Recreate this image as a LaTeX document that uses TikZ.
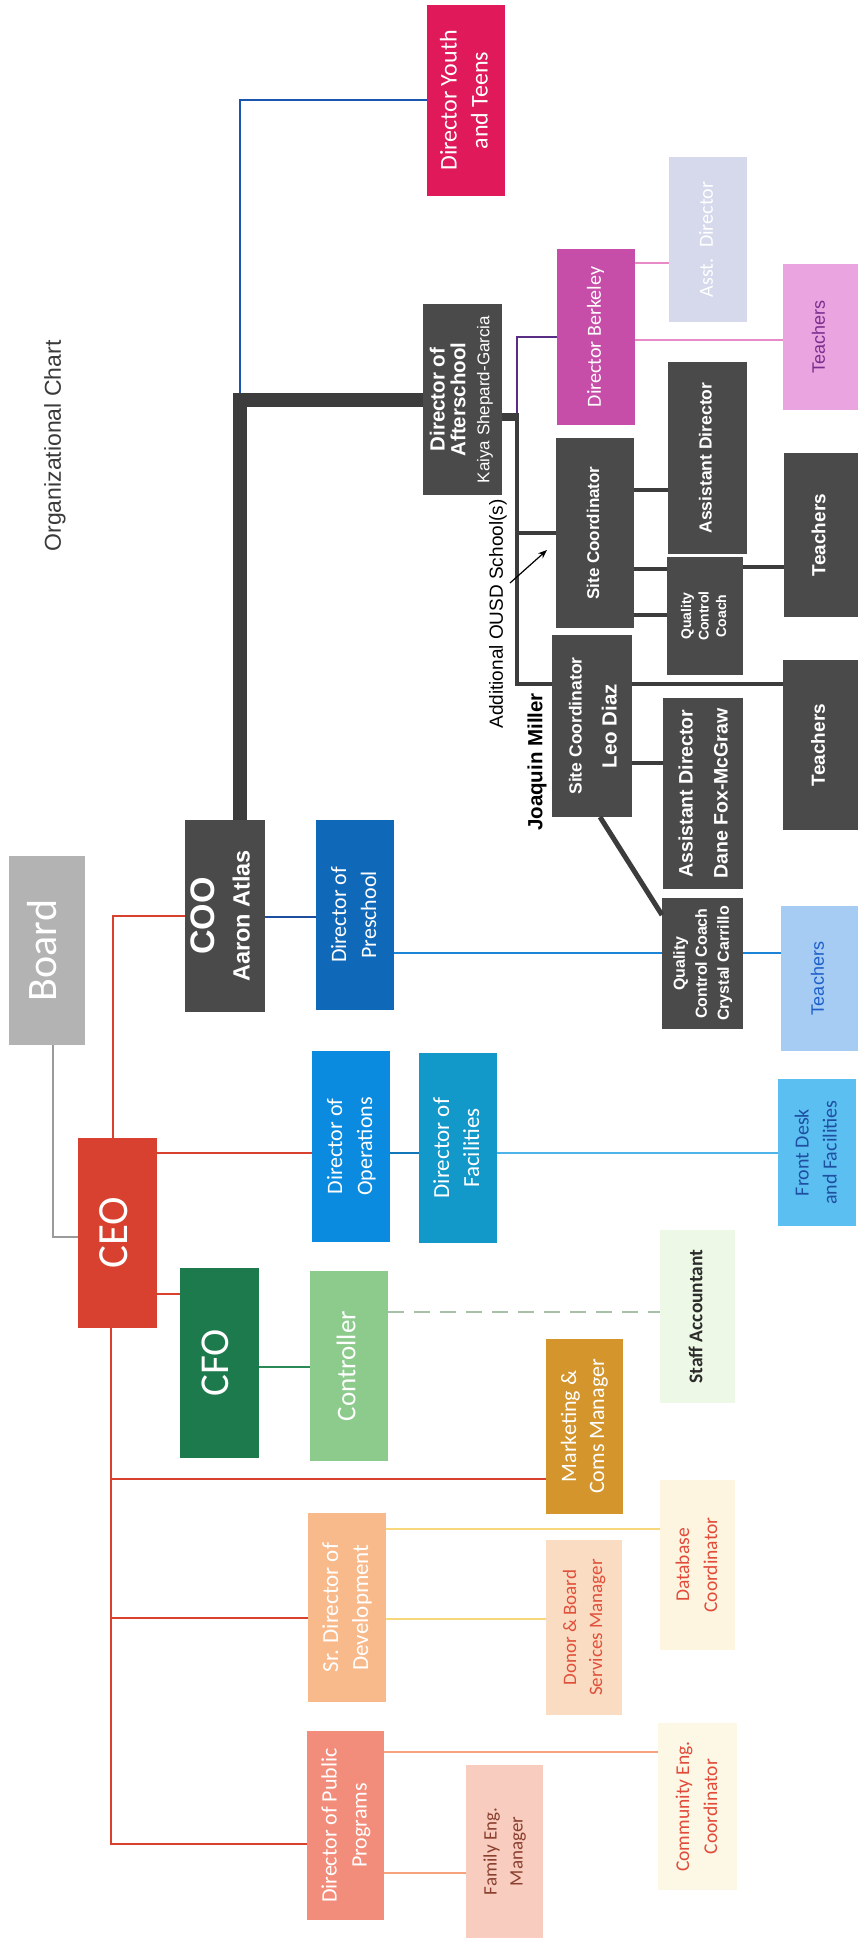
\documentclass[tikz,border=0pt]{standalone}
\usepackage{fontspec}
\usepackage{graphicx}
\setmainfont{Carlito}
\newfontfamily\fcal{Carlito}
\newfontfamily\farial{Liberation Sans}
\usetikzlibrary{arrows.meta}
\newcommand\fsz[2]{\fontsize{#1}{#2}\selectfont}
\newcommand\rtx[1]{\rotatebox{90}{\begin{tabular}{@{}c@{}}#1\end{tabular}}}
\newcommand\obox[7]{\node[box,#6,minimum width={(#4-#2)*1pt},minimum height={(#5-#3)*1pt}] (#1) at (#2,#3) {\rtx{#7}};}
\definecolor{youthc}{HTML}{E0195B}
\definecolor{bersc}{HTML}{C64EA8}
\definecolor{asstc}{HTML}{D5D9EB}
\definecolor{tpinkc}{HTML}{EAA5E0}
\definecolor{tpinkt}{HTML}{7B2D8E}
\definecolor{darkc}{HTML}{4A4A4A}
\definecolor{boardc}{HTML}{B3B3B3}
\definecolor{prec}{HTML}{1068B8}
\definecolor{opsc}{HTML}{0A8BE0}
\definecolor{facc}{HTML}{1398CA}
\definecolor{frontc}{HTML}{5CBFF1}
\definecolor{frontt}{HTML}{1E4FA0}
\definecolor{ceoc}{HTML}{D8412F}
\definecolor{cfoc}{HTML}{1C7A4C}
\definecolor{ctrlc}{HTML}{8DCB8C}
\definecolor{staffc}{HTML}{EEF8E6}
\definecolor{stafft}{HTML}{2B2B2B}
\definecolor{mktc}{HTML}{D4962C}
\definecolor{devc}{HTML}{F9BA8B}
\definecolor{pubc}{HTML}{F38D7B}
\definecolor{donorc}{HTML}{FADCC3}
\definecolor{donort}{HTML}{E0503A}
\definecolor{dbc}{HTML}{FDF5DF}
\definecolor{dbt}{HTML}{E24A3A}
\definecolor{famc}{HTML}{F8CDBF}
\definecolor{famt}{HTML}{8A3F2F}
\definecolor{comc}{HTML}{FDF7E6}
\definecolor{tbluec}{HTML}{A7CCF3}
\definecolor{tbluet}{HTML}{1D5FC8}
\definecolor{titlec}{HTML}{3A3A3A}
\definecolor{redl}{HTML}{D9412F}
\definecolor{grayl}{HTML}{9A9A9A}
\definecolor{youthl}{HTML}{1A55B0}
\definecolor{cooprel}{HTML}{1E4F9E}
\definecolor{prel}{HTML}{1B84D8}
\definecolor{opsl}{HTML}{1277B8}
\definecolor{facl}{HTML}{4DB3E8}
\definecolor{greenl}{HTML}{2A8A55}
\definecolor{dashc}{HTML}{A8BFA8}
\definecolor{yell}{HTML}{F6D77A}
\definecolor{orl}{HTML}{F5A27D}
\definecolor{purl}{HTML}{5A2D85}
\definecolor{pinkl}{HTML}{E88AC8}
\definecolor{darkl}{HTML}{3C3C3C}
\tikzset{
  box/.style={inner sep=0pt, outer sep=0pt, anchor=north west, text=white},
  lbl/.style={inner sep=0pt, rotate=90},
  rl/.style={draw=redl, line width=2pt},
  gl/.style={draw=grayl, line width=1.6pt},
  thinl/.style={line width=1.3pt},
  dk/.style={draw=darkl, line width=4.5pt},
}
\begin{document}
\begin{tikzpicture}[x=1pt,y=-1pt]
\useasboundingbox[fill=white] (0,0) rectangle (858,1940);
% title and labels
\node[lbl, font=\farial\fsz{23}{28}, text=titlec] (title) at (55,446) {Organizational Chart};
\node[lbl, font=\farial\fsz{19}{22}, text=black] (addl) at (498,614) {Additional OUSD School(s)};
\node[lbl, font=\farial\bfseries\fsz{20.5}{24}, text=black] (jm) at (537,762) {Joaquin Miller};
% boxes
\obox{youth}{427}{5}{505}{196}{fill=youthc, font=\fcal\fsz{24}{31}}{Director Youth\\and Teens}
\obox{asst}{669}{157}{747}{322}{fill=asstc, font=\fcal\fsz{20}{24}}{Asst.~ Director}
\obox{bers}{557}{249}{635}{425}{fill=bersc, font=\fcal\fsz{20}{24}}{Director Berkeley}
\obox{tpink}{783}{264}{858}{410}{fill=tpinkc, text=tpinkt, font=\farial\fsz{18}{22}}{Teachers}
\obox{after}{423}{304}{502}{495}{fill=darkc, font=\farial\bfseries\fsz{20.5}{20}}{Director of\\Afterschool\\[4pt]\mdseries\fsz{17}{20}Kaiya Shepard-Garcia}
\obox{sca}{556}{438}{634}{628}{fill=darkc, font=\farial\bfseries\fsz{17}{20}}{Site Coordinator}
\obox{ada}{668}{362}{747}{554}{fill=darkc, font=\farial\bfseries\fsz{17.5}{21}}{Assistant Director}
\obox{qca}{667}{557}{743}{675}{fill=darkc, font=\farial\bfseries\fsz{14}{17.5}}{Quality\\Control\\Coach}
\obox{ta}{784}{453}{858}{617}{fill=darkc, font=\farial\bfseries\fsz{19}{22}}{Teachers}
\obox{scb}{552}{635}{632}{817}{fill=darkc, font=\farial\bfseries\fsz{17.5}{35}}{Site Coordinator\\\fsz{20.5}{24}Leo Diaz}
\obox{adb}{663}{698}{743}{889}{fill=darkc, font=\farial\bfseries\fsz{19.5}{35}}{Assistant Director\\Dane Fox-McGraw}
\obox{tb}{783}{660}{858}{830}{fill=darkc, font=\farial\bfseries\fsz{19}{22}}{Teachers}
\obox{qcb}{662}{898}{743}{1029}{fill=darkc, font=\farial\bfseries\fsz{16}{22}}{Quality\\Control Coach\\Crystal Carrillo}
\obox{tblue}{781}{906}{858}{1051}{fill=tbluec, text=tbluet, font=\farial\fsz{18}{22}}{Teachers}
\obox{board}{9}{856}{85}{1045}{fill=boardc, font=\fcal\fsz{42}{48}}{Board}
\obox{coo}{185}{820}{265}{1012}{fill=darkc, font=\farial\bfseries\fsz{23.5}{35}}{\fsz{34}{36}COO\\Aaron Atlas}
\obox{pre}{316}{820}{394}{1010}{fill=prec, font=\fcal\fsz{22}{30}}{Director of\\Preschool}
\obox{ops}{312}{1051}{390}{1242}{fill=opsc, font=\fcal\fsz{22}{30}}{Director of\\Operations}
\obox{fac}{419}{1053}{497}{1243}{fill=facc, font=\fcal\fsz{23}{30}}{Director of\\Facilities}
\obox{front}{778}{1079}{856}{1226}{fill=frontc, text=frontt, font=\fcal\fsz{20}{28}}{Front Desk\\and Facilities}
\obox{ceo}{78}{1138}{157}{1328}{fill=ceoc, font=\fcal\fsz{43}{48}}{CEO}
\obox{cfo}{180}{1268}{259}{1458}{fill=cfoc, font=\fcal\fsz{41}{46}}{CFO}
\obox{ctrl}{310}{1271}{388}{1461}{fill=ctrlc, font=\fcal\fsz{27}{32}}{Controller}
\obox{staff}{660}{1230}{735}{1403}{fill=staffc, text=stafft, font=\fcal\bfseries\fsz{19.5}{24}}{Staff Accountant}
\obox{mkt}{546}{1339}{623}{1514}{fill=mktc, font=\fcal\fsz{22}{28}}{Marketing \&\\Coms Manager}
\obox{dev}{308}{1513}{386}{1702}{fill=devc, font=\fcal\fsz{23}{30}}{Sr. Director of\\Development}
\obox{pub}{307}{1731}{384}{1920}{fill=pubc, font=\fcal\fsz{22}{30}}{Director of Public\\Programs}
\obox{donor}{546}{1540}{622}{1715}{fill=donorc, text=donort, font=\fcal\fsz{19}{26}}{Donor \& Board\\Services Manager}
\obox{db}{660}{1480}{735}{1650}{fill=dbc, text=dbt, font=\fcal\fsz{19.5}{28}}{Database\\Coordinator}
\obox{fam}{466}{1765}{543}{1938}{fill=famc, text=famt, font=\fcal\fsz{19}{26}}{Family Eng.\\Manager}
\obox{com}{658}{1723}{737}{1890}{fill=comc, text=dbt, font=\fcal\fsz{19.5}{28}}{Community Eng.\\Coordinator}
% connectors: top level
\draw[gl] ([xshift=6pt]board.south) |- (ceo.west |- 0,1237);
\draw[rl] ([xshift=-5pt]ceo.north) |- (coo.west);
\draw[rl] (ceo.east |- 0,1153) -- (ops.west |- 0,1153);
\draw[rl] (ceo.east |- 0,1294) -- (cfo.west |- 0,1294);
\draw[rl] ([xshift=-7pt]ceo.south) |- (pub.west |- 0,1844);
\coordinate (rb) at (110.5,1500);
\draw[rl] (rb |- 0,1479) -- (mkt.west |- 0,1479);
\draw[rl] (rb |- 0,1618) -- (dev.west |- 0,1618);
\draw[draw=greenl, line width=2pt] (cfo.east |- 0,1367) -- (ctrl.west |- 0,1367);
\draw[draw=dashc, thinl, dash pattern=on 16pt off 10pt] (ctrl.east |- 0,1312) -- (staff.west |- 0,1312);
\draw[draw=opsl, line width=1.8pt] (ops.east |- 0,1153) -- (fac.west |- 0,1153);
\draw[draw=facl, line width=1.6pt] (fac.east |- 0,1153) -- (front.west |- 0,1153);
\draw[draw=cooprel, line width=2pt] (coo.east |- 0,917) -- (pre.west |- 0,917);
\draw[draw=prel, line width=1.6pt] (pre.east |- 0,953) -- (qcb.west |- 0,953);
\draw[draw=prel, line width=1.6pt] (qcb.east |- 0,953) -- (tblue.west |- 0,953);
\draw[draw=yell, thinl] (dev.east |- 0,1529) -- (db.west |- 0,1529);
\draw[draw=yell, thinl] (dev.east |- 0,1619) -- (donor.west |- 0,1619);
\draw[draw=orl, thinl] (pub.east |- 0,1752) -- (com.west |- 0,1752);
\draw[draw=orl, thinl] (pub.east |- 0,1873) -- (fam.west |- 0,1873);
% COO trunk
\coordinate (jn) at (240,400);
\draw[draw=youthl, line width=2pt] (jn) |- (youth.west);
\draw[draw=darkl, line width=14pt] (coo.north -| jn) -- (jn) -- (after.west |- jn);
% afterschool branch
\coordinate (vb) at (517,417);
\draw[draw=purl, line width=2pt] (vb) |- (bers.west);
\draw[dk, line width=8pt] (after.east |- vb) -- ([xshift=2pt]vb);
\draw[dk] ([yshift=4pt]vb) |- (scb.west |- 0,684);
\draw[dk] (vb |- 0,533) -- (sca.west |- 0,533);
\draw[dk] (sca.east |- 0,490) -- (ada.west |- 0,490);
\draw[dk] (sca.east |- 0,569) -- (qca.west |- 0,569);
\draw[dk] (sca.east |- 0,615) -- (qca.west |- 0,615);
\draw[dk] (qca.east |- 0,567) -- (ta.west |- 0,567);
\draw[dk] (scb.east |- 0,684) -- (tb.west |- 0,684);
\draw[dk] (scb.east |- 0,763) -- (adb.west |- 0,763);
\draw[dk, line width=5pt] ([xshift=8pt]scb.south) -- ([yshift=-17pt]qcb.north west);
\draw[draw=pinkl, thinl] (bers.east |- 0,263) -- (asst.west |- 0,263);
\draw[draw=pinkl, thinl] (bers.east |- 0,340) -- (tpink.west |- 0,340);
% annotation arrow
\coordinate (arrs) at (510,583);
\coordinate (arre) at (547,550);
\draw[line width=1.2pt, -{Stealth[length=9pt,width=7pt]}] (arrs) -- (arre);
\end{tikzpicture}
\end{document}
